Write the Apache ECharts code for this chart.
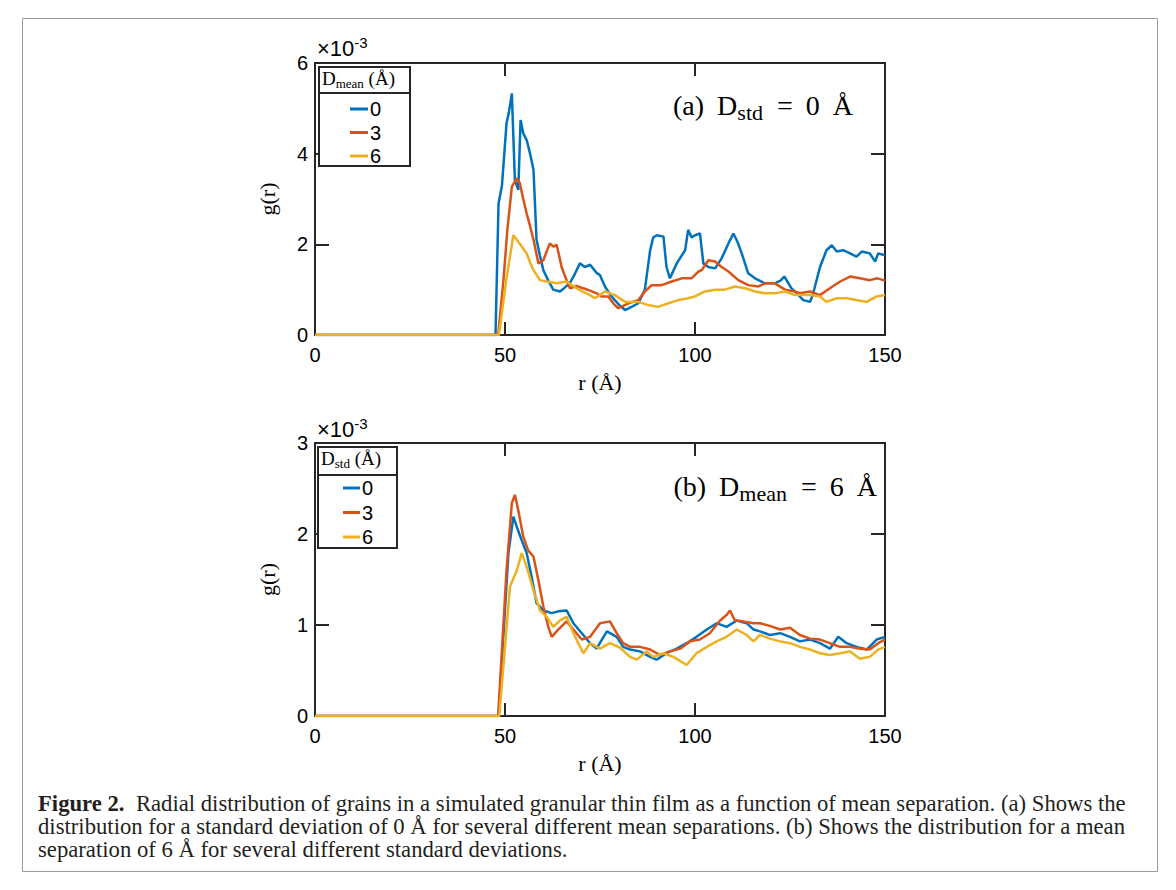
<!DOCTYPE html>
<html>
<head>
<meta charset="utf-8">
<script src="https://cdn.jsdelivr.net/npm/echarts@6/dist/echarts.min.js"></script>
<style>
html,body{margin:0;padding:0;background:#fff;}
#x1{width:1176px;height:890px;}
</style>
</head>
<body>
<div id="x1"></div>
<script>
// g(r) in units of 1e-3 as [r (Å), g] pairs
// (a) D_std = 0 Å, several D_mean
var a_mean0 = [[0,0],[47.5,0],[48.3,2.9],[49.2,3.3],[50.4,4.67],[51.0,4.9],[51.8,5.33],[52.6,3.42],[53.5,3.2],[54.1,4.74],[54.8,4.45],[55.7,4.3],[56.6,4.0],[57.5,3.64],[58.3,2.1],[59.2,1.75],[60.1,1.43],[61.4,1.2],[62.7,1.0],[64.5,0.96],[65.8,1.05],[67.1,1.15],[68.4,1.35],[69.7,1.58],[71.0,1.5],[72.4,1.55],[74.1,1.37],[75.0,1.32],[76.3,1.07],[77.6,0.9],[78.9,0.77],[80.2,0.65],[81.6,0.55],[83.3,0.62],[85.1,0.7],[86.8,1.0],[88.2,1.87],[89.0,2.15],[89.9,2.2],[91.7,2.17],[92.5,1.5],[93.4,1.25],[95.2,1.58],[97.4,1.87],[98.2,2.32],[99.1,2.15],[100,2.2],[101.3,2.24],[102.2,1.58],[103.5,1.5],[105.3,1.47],[107,1.69],[108.8,2.02],[110.1,2.24],[111.2,2.05],[112.3,1.8],[114,1.36],[115.8,1.25],[118.4,1.14],[121,1.14],[122.5,1.2],[123.5,1.29],[125.4,1.03],[126.8,0.92],[128.5,0.77],[130.3,0.73],[131.1,0.92],[132.9,1.5],[134.6,1.87],[136,1.98],[137.3,1.84],[139,1.87],[140.8,1.8],[142.5,1.73],[143.9,1.84],[146,1.8],[147.4,1.62],[148.2,1.8],[150,1.76]];
var a_mean3 = [[0,0],[48.2,0],[49.6,1.21],[50.6,2.3],[51.8,3.27],[53.1,3.46],[53.9,3.35],[54.8,3.0],[55.7,2.68],[56.6,2.4],[57.5,2.1],[58.8,1.58],[60.1,1.65],[61.0,1.85],[61.8,2.02],[62.7,1.95],[63.6,1.99],[64.9,1.5],[66.0,1.25],[67.1,1.03],[68.9,1.08],[70.6,1.03],[72.4,0.98],[74.1,0.92],[75.4,0.85],[77.2,0.85],[78.5,0.7],[79.8,0.59],[81.2,0.65],[82.5,0.7],[85.1,0.77],[86.8,0.96],[88.6,1.1],[91.2,1.1],[93.9,1.18],[96.5,1.25],[99.1,1.25],[100.9,1.4],[101.8,1.43],[103.5,1.65],[105.3,1.62],[107,1.5],[108.8,1.4],[111.4,1.21],[114,1.1],[116.7,1.07],[118.4,1.14],[121,1.14],[123.7,1.0],[126.3,0.96],[127.6,0.92],[130.3,0.96],[132.9,0.88],[135.5,1.03],[138.2,1.18],[140.8,1.29],[143.4,1.25],[146,1.21],[148,1.25],[150,1.2]];
var a_mean6 = [[0,0],[48.4,0],[50.3,1.2],[52.2,2.2],[53.1,2.1],[54.4,1.95],[55.7,1.8],[56.6,1.6],[57.5,1.43],[59.2,1.21],[61,1.18],[63.6,1.14],[66.2,1.18],[68.9,1.03],[70.6,0.95],[72.4,0.88],[73.7,0.81],[76.3,0.96],[78.9,0.88],[81.6,0.73],[85.1,0.73],[87.7,0.66],[90.3,0.62],[93,0.7],[95.6,0.77],[98.2,0.81],[100,0.85],[102.6,0.96],[105.3,1.0],[107.9,1.0],[110.5,1.07],[113.2,1.03],[115.8,0.96],[118.4,0.92],[121,0.92],[123.7,0.96],[126.3,0.88],[130.3,0.88],[132.9,0.85],[134.6,0.73],[137.3,0.81],[139.9,0.81],[142.5,0.77],[145.2,0.73],[147.8,0.85],[150,0.88]];
// (b) D_mean = 6 Å, several D_std
var b_std0 = [[0,0],[48.3,0],[50.9,1.79],[52.2,2.19],[53.1,2.08],[54.4,1.93],[55.7,1.79],[57,1.53],[58.3,1.24],[60.1,1.16],[62.3,1.13],[64,1.15],[66.2,1.16],[68,1.02],[70.2,0.91],[72.4,0.8],[74.1,0.74],[76.8,0.93],[79.4,0.87],[81.1,0.76],[82.9,0.73],[85.5,0.71],[88.2,0.65],[89.9,0.62],[92.5,0.69],[95.2,0.74],[97.8,0.8],[100.4,0.87],[103.1,0.95],[105.7,1.02],[108.3,0.98],[111,1.05],[113.6,1.02],[115.4,0.95],[117.1,0.93],[119.7,0.89],[122.4,0.91],[125,0.87],[127.6,0.82],[130.3,0.84],[132.9,0.8],[135.5,0.74],[137.7,0.87],[139.9,0.8],[142.5,0.76],[145.2,0.73],[147.8,0.84],[150,0.87]];
var b_std3 = [[0,0],[48.2,0],[50.4,1.6],[51.8,2.34],[52.6,2.43],[53.5,2.26],[54.8,1.97],[56.1,1.82],[57.5,1.75],[58.8,1.49],[60.1,1.2],[61.4,0.98],[62.3,0.87],[64,0.95],[66.2,1.04],[68,0.95],[70.2,0.84],[72.4,0.87],[75,1.02],[77.6,1.04],[79.4,0.91],[81.1,0.8],[82.9,0.76],[85.5,0.76],[88.2,0.73],[90.8,0.67],[93.4,0.71],[96.1,0.74],[98.7,0.82],[101.3,0.84],[103.9,0.91],[106.6,1.05],[108.3,1.11],[109.2,1.16],[110.5,1.05],[112.7,1.04],[115.4,1.02],[117.1,1.02],[119.7,0.99],[122.4,0.95],[125,0.97],[127.6,0.89],[130.3,0.85],[132.9,0.84],[135.5,0.8],[138.2,0.76],[140.8,0.76],[143.4,0.74],[146,0.73],[148.2,0.8],[150,0.84]];
var b_std6 = [[0,0],[48.5,0],[51.3,1.42],[53.1,1.6],[54.4,1.79],[55.7,1.64],[57.5,1.38],[59.2,1.16],[61,1.09],[62.7,0.98],[64.5,1.05],[66.2,1.09],[68,0.91],[70.6,0.69],[72.4,0.8],[75,0.74],[77.6,0.8],[80.3,0.75],[82.9,0.65],[84.7,0.62],[87.3,0.71],[89,0.65],[91.7,0.69],[94.3,0.65],[97.8,0.56],[100.4,0.69],[103.1,0.76],[105.7,0.82],[108.3,0.87],[111,0.95],[113.6,0.89],[115.4,0.82],[117.1,0.89],[119.7,0.85],[122.4,0.82],[125,0.8],[127.6,0.76],[130.3,0.73],[132.9,0.69],[135.5,0.67],[138.2,0.69],[140.8,0.71],[143.4,0.63],[146,0.65],[148.2,0.73],[150,0.76]];

var legendNames = ['0', '3', '6'];
var colors = ['#0072BD', '#D95319', '#EDB120'];

var serif = '"Liberation Serif", "DejaVu Serif", serif';
var sans = '"Liberation Sans", Arial, sans-serif';
var ink = '#262626';

function xAx(grid, top) {
    return {
        type: 'value', gridIndex: grid, min: 0, max: 150, interval: 50,
        position: top ? 'top' : 'bottom',
        name: top ? '' : 'r (Å)', nameLocation: 'middle', nameGap: 36,
        nameTextStyle: { fontFamily: serif, fontSize: 22, color: '#000' },
        axisLine: { show: true, onZero: false, lineStyle: { color: ink, width: 2 } },
        axisTick: { show: true, inside: true, length: 13, lineStyle: { color: ink, width: 2 } },
        axisLabel: { show: !top, margin: 10, fontFamily: sans, fontSize: 20, color: '#000' },
        splitLine: { show: false }
    };
}
function yAx(grid, max, step, right) {
    return {
        type: 'value', gridIndex: grid, min: 0, max: max, interval: step,
        position: right ? 'right' : 'left',
        name: right ? '' : 'g(r)', nameLocation: 'middle', nameGap: 37, nameRotate: 90,
        nameTextStyle: { fontFamily: serif, fontSize: 22, color: '#000' },
        axisLine: { show: true, onZero: false, lineStyle: { color: ink, width: 2 } },
        axisTick: { show: true, inside: true, length: 14, lineStyle: { color: ink, width: 2 } },
        axisLabel: { show: !right, margin: 7, fontFamily: sans, fontSize: 20, color: '#000' },
        splitLine: { show: false }
    };
}
function line(name, data, i, xi, yi) {
    return {
        name: name, type: 'line', data: data, xAxisIndex: xi, yAxisIndex: yi,
        symbol: 'none', animation: false,
        lineStyle: { color: colors[i], width: 2.5 },
        itemStyle: { color: colors[i] }
    };
}
function legendBox(x, y, w, h, sepY, label) {
    return [
        { type: 'rect', shape: { x: x, y: y, width: w, height: h }, style: { fill: '#fff', stroke: ink, lineWidth: 2 }, z: 5 },
        { type: 'line', shape: { x1: x, y1: sepY, x2: x + w, y2: sepY }, style: { stroke: ink, lineWidth: 2 }, z: 6 },
        { type: 'text', left: x + 3, top: y + 2, z: 6, style: {
            text: label, rich: {
                n: { fontFamily: serif, fontSize: 19, fill: '#000' },
                s: { fontFamily: serif, fontSize: 13, fill: '#000', padding: [10, 0, 0, 0] }
            } } }
    ];
}
function exponent(x, y) {
    return { type: 'text', left: x, top: y, style: {
        text: '{n|×10}{s|-3}', rich: {
            n: { fontFamily: sans, fontSize: 22, fill: '#000' },
            s: { fontFamily: sans, fontSize: 15, fill: '#000', padding: [0, 0, 12, 0] }
        } } };
}
function note(x, y, text) {
    return { type: 'text', right: x, top: y, z: 6, style: {
        text: text, rich: {
            n: { fontFamily: serif, fontSize: 28, fill: '#000' },
            d: { fontFamily: serif, fontSize: 28, fill: '#000', padding: [0, 0, 0, 13] },
            e: { fontFamily: serif, fontSize: 28, fill: '#000', padding: [0, 0, 0, 14] },
            s: { fontFamily: serif, fontSize: 22, fill: '#000', padding: [14, 0, 0, 0] }
        } } };
}

var myChart = echarts.init(document.getElementById('x1'), null, { renderer: 'svg' });
var option = {
    backgroundColor: '#fff',
    animation: false,
    grid: [
        { left: 315, top: 63, width: 570, height: 272 },
        { left: 315, top: 443, width: 570, height: 273 }
    ],
    xAxis: [xAx(0, false), xAx(0, true), xAx(1, false), xAx(1, true)],
    yAxis: [yAx(0, 6, 2, false), yAx(0, 6, 2, true), yAx(1, 3, 1, false), yAx(1, 3, 1, true)],
    legend: [
        { data: legendNames, orient: 'vertical', left: 350, top: 99, padding: 0, itemGap: 3.5,
          icon: 'rect', itemWidth: 18, itemHeight: 3, z: 10,
          textStyle: { fontFamily: sans, fontSize: 20, lineHeight: 20, color: '#000', padding: [0, 0, 0, -3] } },
        { data: legendNames, orient: 'vertical', left: 343, top: 478, padding: 0, itemGap: 4.5,
          icon: 'rect', itemWidth: 17, itemHeight: 3, z: 10,
          textStyle: { fontFamily: sans, fontSize: 20, lineHeight: 20, color: '#000', padding: [0, 0, 0, -3] } }
    ],
    series: [
        line('0', a_mean0, 0, 0, 0),
        line('3', a_mean3, 1, 0, 0),
        line('6', a_mean6, 2, 0, 0),
        line('0', b_std0, 0, 2, 2),
        line('3', b_std3, 1, 2, 2),
        line('6', b_std6, 2, 2, 2)
    ],
    graphic: [
        { type: 'rect', shape: { x: 22.5, y: 18.5, width: 1135, height: 853 }, style: { fill: 'none', stroke: '#9a9a9a', lineWidth: 1 } },
        exponent(317, 35),
        exponent(317, 416),
        note(1176 - 853, 91, '{n|(a)}{d|D}{s|std}{e|=}{d|0}{d|Å}'),
        note(1176 - 877, 472, '{n|(b)}{d|D}{s|mean}{e|=}{d|6}{d|Å}')
    ].concat(legendBox(319, 67, 91, 99, 93, '{n|D}{s|mean}{n| (Å)}'))
     .concat(legendBox(318, 447, 79, 101, 475, '{n|D}{s|std}{n| (Å)}'))
     .concat([{
        type: 'text', left: 38, top: 792, style: {
            text: '{b|Figure 2.}{r|  Radial distribution of grains in a simulated granular thin film as a function of mean separation. (a) Shows the}\n' +
                  '{r|distribution for a standard deviation of 0 Å for several different mean separations. (b) Shows the distribution for a mean}\n' +
                  '{r|separation of 6 Å for several different standard deviations.}',
            rich: {
                b: { fontFamily: serif, fontSize: 22.7, fontWeight: 'bold', fill: '#231f20', lineHeight: 23 },
                r: { fontFamily: serif, fontSize: 22.7, fill: '#231f20', lineHeight: 23 }
            } } }])
};
myChart.setOption(option);
</script>
</body>
</html>
